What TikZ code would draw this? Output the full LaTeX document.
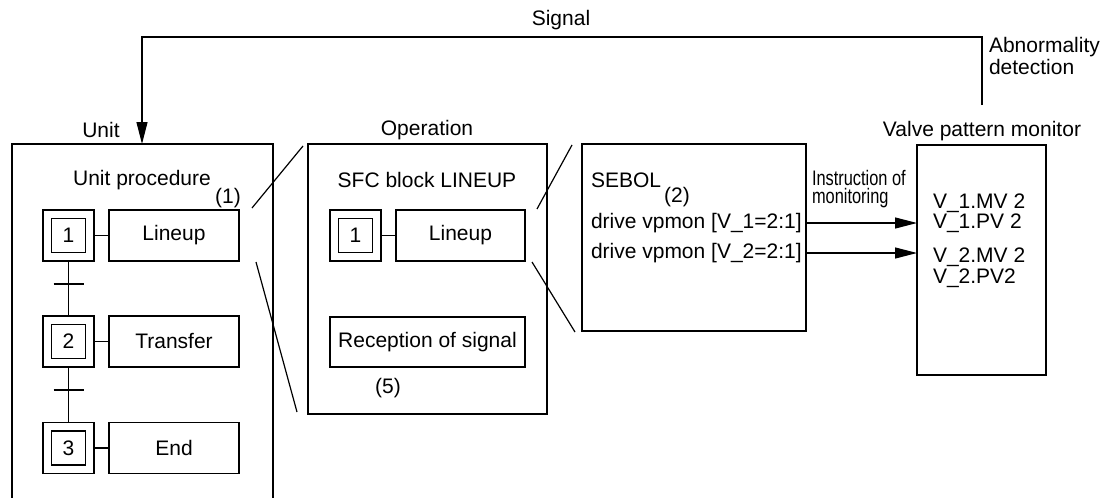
\documentclass[tikz,border=0pt]{standalone}
\usepackage{fontspec}
\setmainfont{Liberation Sans}
\newfontfamily\narrowfont[FakeStretch=0.78]{Liberation Sans}
\usetikzlibrary{arrows.meta}
\begin{document}
\begin{tikzpicture}[x=0.5pt,y=-0.5pt,
  every node/.style={font=\fontsize{10.5}{12}\selectfont},
  ln/.style={line width=0.6pt},
  box/.style={draw,line width=0.6pt,inner sep=0pt,outer sep=0pt,rectangle},
  stepbox/.style={box,minimum width=25.5pt,minimum height=25.5pt},
  innerbox/.style={box,minimum width=17pt,minimum height=17pt},
  actbox/.style={box,minimum width=65pt,minimum height=25.5pt},
  txt/.style={inner sep=0pt,outer sep=0pt},
  arr/.style={ln,-{Triangle[length=11pt,width=5.5pt]}},
  narrow/.style={txt,font=\narrowfont\fontsize{10.5}{12}\selectfont}
]
\useasboundingbox (0,0) rectangle (1104,498);

% Unit box (open at the bottom)
\coordinate (uBL) at (12,500);
\coordinate (uTL) at (12,144);
\coordinate (uTR) at (273,144);
\coordinate (uBR) at (273,500);
\draw[ln] (uBL) -- (uTL) -- (uTR) -- (uBR);
\node[txt] (unitlbl) at (101,130) {Unit};
\node[txt] (uproc) at (142,180) {Unit procedure};
\node[txt] (n1) at (228,198) {(1)};

\node[stepbox] (s1) at (68.5,235.5) {};
\node[innerbox] (i1) at (68.5,235.5) {1};
\node[actbox] (l1) at (174,235.5) {Lineup};
\node[stepbox] (s2) at (68.5,341.5) {};
\node[innerbox] (i2) at (68.5,341.5) {2};
\node[actbox] (l2) at (174,341.5) {Transfer};
\node[stepbox] (s3) at (68.5,448) {};
\node[innerbox] (i3) at (68.5,448) {3};
\node[actbox] (l3) at (174,448) {End};
\draw[ln] (s1.east) -- (l1.west);
\draw[ln] (s2.east) -- (l2.west);
\draw[ln] (s3.east) -- (l3.west);
\draw[ln] (s1.south) -- (s2.north);
\draw[ln] (s2.south) -- (s3.north);
\coordinate (t1) at (68.5,284);
\coordinate (t2) at (68.5,390);
\draw[ln] ([xshift=-7.5pt]t1) -- ([xshift=7.5pt]t1);
\draw[ln] ([xshift=-7.5pt]t2) -- ([xshift=7.5pt]t2);

% Operation
\node[box,minimum width=119.5pt,minimum height=135pt] (op) at (427.5,279) {};
\node[txt] (oplbl) at (427,130) {Operation};
\node[txt] (sfc) at (427,180) {SFC block LINEUP};
\node[stepbox] (os1) at (355.5,235.5) {};
\node[innerbox] (oi1) at (355.5,235.5) {1};
\node[box,minimum width=64.5pt,minimum height=25.5pt] (ol1) at (460.5,235.5) {Lineup};
\draw[ln] (os1.east) -- (ol1.west);
\node[box,minimum width=97.5pt,minimum height=25pt] (rec) at (427.5,342) {Reception of signal};
\node[txt] (n5) at (388,388) {(5)};

% zoom lines
\coordinate (z1a) at (252,208); \coordinate (z1b) at (303,146);
\coordinate (z2a) at (256,262); \coordinate (z2b) at (297,412);
\coordinate (z3a) at (537,209); \coordinate (z3b) at (572,145);
\coordinate (z4a) at (532,262); \coordinate (z4b) at (575,332);
\draw[ln] (z1a) -- (z1b);
\draw[ln] (z2a) -- (z2b);
\draw[ln] (z3a) -- (z3b);
\draw[ln] (z4a) -- (z4b);

% SEBOL
\node[box,minimum width=112pt,minimum height=93.5pt] (sebol) at (694,237.5) {};
\node[txt,anchor=west] (sb) at (591,180) {SEBOL};
\node[txt] (n2) at (677,197) {(2)};
\node[txt,anchor=west] (d1) at (591,223) {drive vpmon [V\_1=2:1]};
\node[txt,anchor=west] (d2) at (591,253) {drive vpmon [V\_2=2:1]};

% Valve pattern monitor
\node[box,minimum width=64.5pt,minimum height=115pt] (vpm) at (981.5,260) {};
\node[txt] (vpmlbl) at (982,131) {Valve pattern monitor};
\node[txt,anchor=west] (v1) at (933,203) {V\_1.MV 2};
\node[txt,anchor=west] (v2) at (933,223) {V\_1.PV 2};
\node[txt,anchor=west] (v3) at (933,257) {V\_2.MV 2};
\node[txt,anchor=west] (v4) at (933,278) {V\_2.PV2};

\node[narrow,anchor=west] (ins1) at (812,178) {Instruction of};
\node[narrow,anchor=west] (ins2) at (812,198) {monitoring};
\draw[arr] (d1 -| sebol.east) -- (d1 -| vpm.west);
\draw[arr] (d2 -| sebol.east) -- (d2 -| vpm.west);

% Signal
\coordinate (abn) at (982,105);
\coordinate (sigR) at (982,37);
\coordinate (uin) at (142,144);
\draw[arr] (abn) -- (sigR) -| (uin);
\node[txt] (siglbl) at (561,20) {Signal};
\node[txt,anchor=west] (ab1) at (989,47) {Abnormality};
\node[txt,anchor=west] (ab2) at (989,67) {detection};
\end{tikzpicture}
\end{document}
